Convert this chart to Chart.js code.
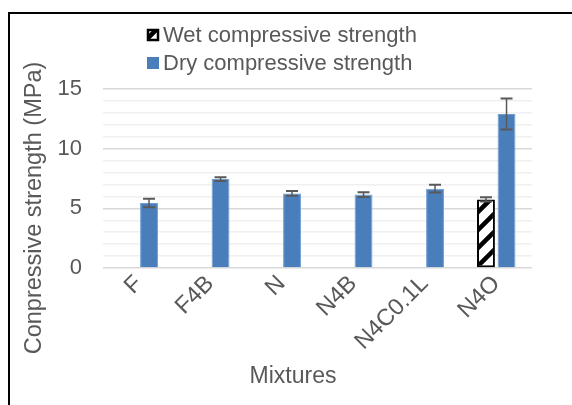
<!DOCTYPE html>
<html>
<head>
<meta charset="utf-8">
<script src="https://cdn.jsdelivr.net/npm/chart.js@4"></script>
<style>
  body { margin: 0; background: #fff; overflow: hidden; }
  #box {
    position: absolute; left: 8px; top: 12px;
    width: 580px; height: 410px;
    border-left: 2px solid #000; border-top: 2px solid #000;
  }
  #chart { display: block; }
</style>
</head>
<body>
<div id="box"><canvas id="chart" width="562" height="391"></canvas></div>
<script>
// values
const mixtures = ['F', 'F4B', 'N', 'N4B', 'N4C0.1L', 'N4O'];
const wetStrength = [null, null, null, null, null, 5.75];
const wetError = [null, null, null, null, null, 0.17];
const dryStrength = [5.45, 7.45, 6.25, 6.15, 6.65, 12.9];
const dryError = [0.35, 0.15, 0.2, 0.2, 0.32, 1.3];
const yTicks = [0, 5, 10, 15];

const grey = '#595959';
const font = 'Liberation Sans, Arial, sans-serif';

function hatch() {
  const c = document.createElement('canvas');
  c.width = 18; c.height = 18;
  const g = c.getContext('2d');
  g.fillStyle = '#fff';
  g.fillRect(0, 0, 18, 18);
  g.strokeStyle = '#000';
  g.lineWidth = 4.5;
  g.beginPath();
  g.moveTo(-9, 9); g.lineTo(9, -9);
  g.moveTo(0, 18); g.lineTo(18, 0);
  g.moveTo(9, 27); g.lineTo(27, 9);
  g.stroke();
  return g.createPattern(c, 'repeat');
}
const wetFill = hatch();

const errorBars = {
  id: 'errorBars',
  afterDatasetsDraw(chart) {
    const ctx = chart.ctx;
    const y = chart.scales.y;
    const errs = [wetError, dryError];
    ctx.save();
    ctx.strokeStyle = grey;
    chart.data.datasets.forEach((ds, i) => {
      const meta = chart.getDatasetMeta(i);
      meta.data.forEach((bar, j) => {
        const v = ds.data[j], e = errs[i][j];
        if (v == null || e == null) return;
        const top = y.getPixelForValue(v + e);
        const bot = y.getPixelForValue(v - e);
        ctx.lineWidth = 1.5;
        ctx.beginPath();
        ctx.moveTo(bar.x, top); ctx.lineTo(bar.x, bot);
        ctx.stroke();
        ctx.lineWidth = 2;
        ctx.beginPath();
        ctx.moveTo(bar.x - 6, top); ctx.lineTo(bar.x + 6, top);
        ctx.moveTo(bar.x - 6, bot); ctx.lineTo(bar.x + 6, bot);
        ctx.stroke();
      });
    });
    ctx.restore();
  }
};

// legend stacked in two rows + axis titles placed like the original
const extras = {
  id: 'extras',
  afterDraw(chart) {
    const ctx = chart.ctx;
    ctx.save();
    ctx.textBaseline = 'middle';
    ctx.font = '22px ' + font;
    chart.data.datasets.forEach((ds, i) => {
      const cy = 21 + i * 28;
      ctx.fillStyle = ds.backgroundColor;
      ctx.fillRect(137, cy - 6, 12, 12);
      if (ds.borderColor === '#000') {
        ctx.strokeStyle = '#000';
        ctx.lineWidth = 2.5;
        ctx.strokeRect(138, cy - 5, 10, 10);
      }
      ctx.fillStyle = grey;
      ctx.textAlign = 'left';
      ctx.fillText(ds.label, 153, cy + 1);
    });
    ctx.font = '23px ' + font;
    ctx.textAlign = 'center';
    ctx.fillText('Mixtures', 283, 363);
    ctx.translate(25, 194);
    ctx.rotate(-Math.PI / 2);
    ctx.font = '23.5px ' + font;
    ctx.fillText('Conpressive strength (MPa)', 0, 0);
    ctx.restore();
  }
};

new Chart(document.getElementById('chart'), {
  type: 'bar',
  data: {
    labels: mixtures,
    datasets: [{
      label: 'Wet compressive strength',
      data: wetStrength,
      backgroundColor: wetFill,
      borderColor: '#000',
      borderWidth: 2,
      borderSkipped: false
    }, {
      label: 'Dry compressive strength',
      data: dryStrength,
      backgroundColor: '#4a7ebb',
      borderColor: '#6d9bd2',
      borderWidth: 1
    }]
  },
  options: {
    responsive: false,
    animation: false,
    layout: { padding: { top: 75, right: 40, left: 0, bottom: 0 } },
    datasets: { bar: { categoryPercentage: 0.575, barPercentage: 0.87 } },
    plugins: { legend: { display: false }, tooltip: { enabled: false } },
    scales: {
      x: {
        grid: { display: false },
        border: { display: false },
        ticks: {
          color: grey, font: { family: font, size: 23.5 },
          minRotation: 45, maxRotation: 45, padding: -6
        },
        afterFit(s) { s.height = 137; }
      },
      y: {
        min: 0, max: 15,
        border: { display: false },
        grid: {
          drawTicks: false, lineWidth: 1.5,
          color: c => (c.tick && yTicks.includes(c.tick.value)) ? '#d9d9d9' : '#f0f0f0'
        },
        ticks: {
          stepSize: 1, autoSkip: false, padding: 21, color: grey,
          font: { family: font, size: 22 },
          callback: v => yTicks.includes(v) ? v : ''
        },
        afterFit(s) { s.width = 93; }
      }
    }
  },
  plugins: [errorBars, extras]
});
</script>
</body>
</html>
